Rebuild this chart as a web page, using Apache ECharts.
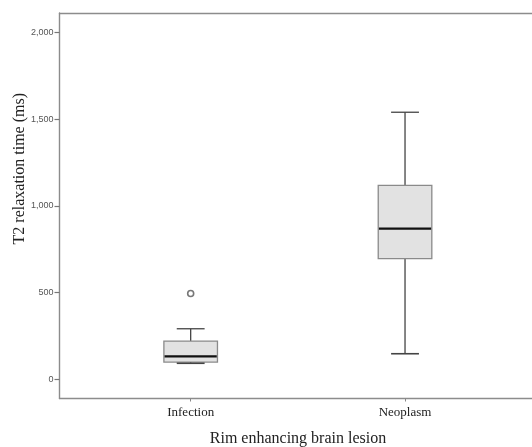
<!DOCTYPE html>
<html>
<head>
<meta charset="utf-8">
<script src="https://cdn.jsdelivr.net/npm/echarts@6/dist/echarts.min.js"></script>
<style>html,body{margin:0;padding:0;background:#fff}#chart{width:532px;height:447px}</style>
</head>
<body>
<div id="chart"></div>
<script>
const categories = ['Infection', 'Neoplasm'];
const lowerWhisker = [93, 148];
const q1 = [100, 696];
const median = [133, 869];
const q3 = [221, 1119];
const upperWhisker = [292, 1540];
const outliers = [[0, 495]];
const yTicks = [0, 500, 1000, 1500, 2000];
const yTitle = 'T2 relaxation time (ms)';
const xTitle = 'Rim enhancing brain lesion';

const boxData = categories.map((c, i) => [i, lowerWhisker[i], q1[i], median[i], q3[i], upperWhisker[i]]);

const Y_MIN = -110, Y_MAX = 2112;
const chart = echarts.init(document.getElementById('chart'), null, {renderer: 'canvas'});

function renderBox(params, api) {
  const x = api.value(0);
  const lo = api.coord([x, api.value(1)]);
  const b1 = api.coord([x, api.value(2)]);
  const md = api.coord([x, api.value(3)]);
  const b3 = api.coord([x, api.value(4)]);
  const hi = api.coord([x, api.value(5)]);
  const band = api.size([1, 0])[0];
  const bw = band * 0.25;
  const cw = bw * 0.52;
  const cx = lo[0];
  const wStyle = {stroke: '#444', lineWidth: 1.3};
  return {
    type: 'group',
    children: [
      {type: 'line', shape: {x1: cx, y1: hi[1], x2: cx, y2: b3[1]}, style: wStyle},
      {type: 'line', shape: {x1: cx, y1: b1[1], x2: cx, y2: lo[1]}, style: wStyle},
      {type: 'line', shape: {x1: cx - cw / 2, y1: hi[1], x2: cx + cw / 2, y2: hi[1]}, style: wStyle},
      {type: 'rect', shape: {x: cx - bw / 2, y: b3[1], width: bw, height: b1[1] - b3[1]},
        style: {fill: '#e2e2e2', stroke: '#8a8a8a', lineWidth: 1.3}},
      {type: 'line', shape: {x1: cx - cw / 2, y1: lo[1], x2: cx + cw / 2, y2: lo[1]}, style: {stroke: '#444', lineWidth: 1.6}},
      {type: 'line', shape: {x1: cx - bw / 2 + 0.7, y1: md[1], x2: cx + bw / 2 - 0.7, y2: md[1]}, style: {stroke: '#111', lineWidth: 2.2}}
    ]
  };
}

const frameLine = {show: true, onZero: false, lineStyle: {color: '#8c8c8c', width: 1.4}};

const option = {
  animation: false,
  backgroundColor: '#fff',
  grid: [
    {left: 59.5, right: 0, top: 13, bottom: 48.5},
    {left: 83.5, right: 19.8, top: 13, bottom: 48.5}
  ],
  xAxis: [
    {gridIndex: 0, type: 'value', min: 0, max: 1, position: 'bottom',
      axisLine: frameLine, axisTick: {show: false}, axisLabel: {show: false}, splitLine: {show: false}},
    {gridIndex: 0, type: 'value', min: 0, max: 1, position: 'top',
      axisLine: frameLine, axisTick: {show: false}, axisLabel: {show: false}, splitLine: {show: false}},
    {gridIndex: 1, type: 'category', data: categories,
      axisLine: {show: false, onZero: false},
      axisTick: {show: true, alignWithLabel: true, length: 3, lineStyle: {color: '#888', width: 1}},
      axisLabel: {fontFamily: 'Liberation Serif', fontSize: 13, color: '#222', margin: 8},
      splitLine: {show: false}}
  ],
  yAxis: [
    {gridIndex: 0, type: 'value', min: Y_MIN, max: Y_MAX,
      axisLine: frameLine,
      axisTick: {show: true, length: 5, customValues: yTicks, lineStyle: {color: '#777', width: 1.2}},
      axisLabel: {customValues: yTicks, fontFamily: 'Liberation Sans', fontSize: 9, color: '#555', margin: 6,
        formatter: v => Number(v).toLocaleString('en-US')},
      splitLine: {show: false}},
    {gridIndex: 1, type: 'value', min: Y_MIN, max: Y_MAX, show: false, splitLine: {show: false}}
  ],
  graphic: [
    {type: 'text', x: 19.5, y: 168.7, rotation: Math.PI / 2,
      style: {text: yTitle, font: '16px "Liberation Serif"', fill: '#222', textAlign: 'center', textVerticalAlign: 'middle'}},
    {type: 'text', x: 298, y: 439, 
      style: {text: xTitle, font: '16px "Liberation Serif"', fill: '#222', textAlign: 'center', textVerticalAlign: 'middle'}}
  ],
  series: [
    {type: 'custom', xAxisIndex: 2, yAxisIndex: 1, renderItem: renderBox,
      encode: {x: 0, y: [1, 2, 3, 4, 5]}, data: boxData},
    {type: 'scatter', xAxisIndex: 2, yAxisIndex: 1, data: outliers, symbol: 'circle', symbolSize: 6,
      itemStyle: {color: '#fff', borderColor: '#555', borderWidth: 1.6}}
  ]
};
chart.setOption(option);
</script>
</body>
</html>
